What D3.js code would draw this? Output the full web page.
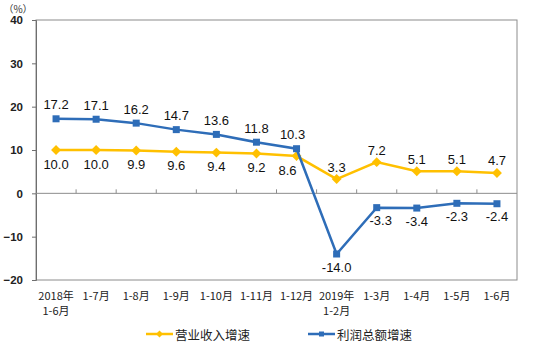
<!DOCTYPE html>
<html>
<head>
<meta charset="utf-8">
<script src="https://cdn.jsdelivr.net/npm/d3@7"></script>
<style>
  body { margin: 0; background: #fff; }
  svg { display: block; }
</style>
</head>
<body>
<div id="chart"></div>
<script>
// categories (two lines where the original wraps)
const categories = [
    ["2018年", "1-6月"], ["1-7月"], ["1-8月"], ["1-9月"], ["1-10月"], ["1-11月"],
    ["1-12月"], ["2019年", "1-2月"], ["1-3月"], ["1-4月"], ["1-5月"], ["1-6月"]
];
const revenueGrowth = [10.0, 10.0, 9.9, 9.6, 9.4, 9.2, 8.6, 3.3, 7.2, 5.1, 5.1, 4.7];
const profitGrowth = [17.2, 17.1, 16.2, 14.7, 13.6, 11.8, 10.3, -14.0, -3.3, -3.4, -2.3, -2.4];
const yTicks = [40, 30, 20, 10, 0, -10, -20];
const seriesNames = ["营业收入增速", "利润总额增速"];

function drawChart() {
    d3.select("#chart").selectAll("*").remove();

    let svg = d3.select("#chart").append("svg")
        .attr("width", 537).attr("height", 351);

    let left = 36, right = 517, top = 20, bottom = 280;

    let x = d3.scaleBand().domain(d3.range(categories.length)).range([left, right]);
    let y = d3.scaleLinear().domain([-20, 40]).range([bottom, top]);
    let cx = i => x(i) + x.bandwidth() / 2;

    // plot frame
    svg.append("rect")
        .attr("x", left).attr("y", top)
        .attr("width", right - left).attr("height", bottom - top)
        .attr("fill", "none").attr("stroke", "#8c8c8c").attr("stroke-width", 1);

    // y axis
    let yAxis = svg.append("g")
        .attr("transform", `translate(${left},0)`)
        .call(d3.axisLeft(y).tickValues(yTicks).tickSize(4).tickPadding(9));
    yAxis.select(".domain").attr("stroke", "#6e6e6e");
    yAxis.selectAll(".tick line").attr("stroke", "#6e6e6e");
    yAxis.selectAll("text")
        .style("font-family", "'Liberation Sans', Arial, sans-serif")
        .style("font-size", "11.5px").style("font-weight", "bold").style("fill", "#222");

    svg.append("text")
        .attr("x", 18).attr("y", 8)
        .attr("text-anchor", "middle").attr("dominant-baseline", "central")
        .style("font-family", "'Noto Sans CJK SC', sans-serif")
        .style("font-size", "10px").style("fill", "#333")
        .text("（%）");

    // zero line with category ticks pointing up
    svg.append("line")
        .attr("x1", left).attr("x2", right)
        .attr("y1", y(0)).attr("y2", y(0))
        .attr("stroke", "#8c8c8c").attr("stroke-width", 1);
    d3.range(1, categories.length).forEach(i => {
        svg.append("line")
            .attr("x1", x(i)).attr("x2", x(i))
            .attr("y1", y(0)).attr("y2", y(0) - 4)
            .attr("stroke", "#8c8c8c");
    });

    // category labels
    categories.forEach((c, i) => {
        let t = svg.append("text")
            .attr("x", cx(i)).attr("y", 300)
            .attr("text-anchor", "middle")
            .style("font-family", "'Noto Sans CJK SC', sans-serif")
            .style("font-size", "11px").style("fill", "#222");
        c.forEach((line, k) => {
            t.append("tspan").attr("x", cx(i)).attr("dy", k === 0 ? 0 : 15).text(line);
        });
    });

    let lineGen = d3.line().x((d, i) => cx(i)).y(d => y(d));
    const yellow = "#FFC000", blue = "#2E6DB8";

    // revenue line (yellow)
    svg.append("path").attr("d", lineGen(revenueGrowth))
        .attr("fill", "none").attr("stroke", yellow).attr("stroke-width", 2.5);
    svg.selectAll(".rev").data(revenueGrowth).enter().append("path")
        .attr("transform", (d, i) => `translate(${cx(i)},${y(d)}) rotate(45)`)
        .attr("d", "M-3.5,-3.5H3.5V3.5H-3.5Z")
        .attr("fill", yellow);

    // profit line (blue)
    svg.append("path").attr("d", lineGen(profitGrowth))
        .attr("fill", "none").attr("stroke", blue).attr("stroke-width", 2.5);
    svg.selectAll(".pro").data(profitGrowth).enter().append("rect")
        .attr("x", (d, i) => cx(i) - 3.5).attr("y", d => y(d) - 3.5)
        .attr("width", 7).attr("height", 7)
        .attr("fill", blue);

    // value labels
    let label = (xp, yp, txt) => svg.append("text")
        .attr("x", xp).attr("y", yp)
        .attr("text-anchor", "middle").attr("dominant-baseline", "central")
        .style("font-family", "'Liberation Sans', Arial, sans-serif")
        .style("font-size", "13px").style("fill", "#111")
        .text(txt);

    revenueGrowth.forEach((v, i) => {
        if (i < 7) label(cx(i) + (i === 6 ? -9 : 0), y(v) + 14, v.toFixed(1));
        else label(cx(i), y(v) - 12, v.toFixed(1));
    });
    profitGrowth.forEach((v, i) => {
        if (i < 7) label(cx(i) + (i === 6 ? -4 : 0), y(v) - 14, v.toFixed(1));
        else label(cx(i) + (i === 8 ? 4 : 0), y(v) + 13, v.toFixed(1));
    });

    // legend
    let legend = [[146, yellow, "diamond"], [308, blue, "square"]];
    legend.forEach(([lx, col, shape], k) => {
        let ly = 334;
        svg.append("line").attr("x1", lx).attr("x2", lx + 27)
            .attr("y1", ly).attr("y2", ly)
            .attr("stroke", col).attr("stroke-width", 2.5);
        if (shape === "diamond") {
            svg.append("path")
                .attr("transform", `translate(${lx + 13.5},${ly}) rotate(45)`)
                .attr("d", "M-2.5,-2.5H2.5V2.5H-2.5Z").attr("fill", col);
        } else {
            svg.append("rect").attr("x", lx + 11).attr("y", ly - 2.5)
                .attr("width", 5).attr("height", 5).attr("fill", col);
        }
        svg.append("text")
            .attr("x", lx + 29).attr("y", ly)
            .attr("dominant-baseline", "central")
            .style("font-family", "'Noto Sans CJK SC', sans-serif")
            .style("font-size", "12.5px").style("fill", "#222")
            .text(seriesNames[k]);
    });
}

drawChart();
</script>
</body>
</html>
